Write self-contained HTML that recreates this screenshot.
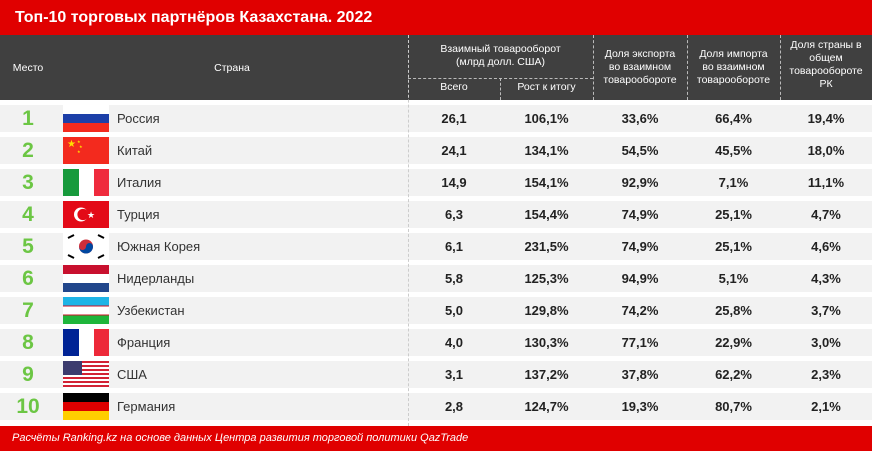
<!DOCTYPE html>
<html><head><meta charset="utf-8"><style>
body{margin:0;width:872px;height:451px;background:#fff;font-family:"Liberation Sans",sans-serif;position:relative;overflow:hidden}
.t{position:absolute;left:0;top:0;width:872px;height:35px;background:#e00000;color:#fff;font-weight:bold;font-size:16px;line-height:35px;padding-left:15px;box-sizing:border-box}
.h{position:absolute;left:0;top:35px;width:872px;height:65px;background:#404040;color:#fff;font-size:10.5px}
.h div{position:absolute;text-align:center;line-height:13px}
.vl{position:absolute;width:0;border-left:1px dashed #bbb;z-index:5}
.row{position:absolute;left:0;width:872px;height:27px;background:#f2f2f2;font-size:13px;line-height:27px}
.row span{position:absolute;top:0}
.rk{left:0;width:56px;text-align:center;color:#6cc644;font-weight:bold;font-size:21px}
.nm{left:117px;color:#333}
.v{text-align:center;font-weight:bold;color:#222}
.fl{position:absolute;left:63px;top:0;width:46px;height:27px}
.f{position:absolute;left:0;top:426px;width:872px;height:25px;background:#e00000;color:#fff;font-style:italic;font-size:11px;line-height:25px;padding-left:12px;z-index:6}
</style></head><body>
<div class="t">Топ-10 торговых партнёров Казахстана. 2022</div>
<div class="h">
<div style="left:0;width:56px;top:27px">Место</div>
<div style="left:56px;width:352px;top:27px">Страна</div>
<div style="left:408px;width:185px;top:8px">Взаимный товарооборот<br>(млрд долл. США)</div>
<div style="left:408px;width:92px;top:46px">Всего</div>
<div style="left:500px;width:93px;top:46px">Рост к итогу</div>
<div style="left:593px;width:94px;top:13px">Доля экспорта<br>во взаимном<br>товарообороте</div>
<div style="left:687px;width:93px;top:13px">Доля импорта<br>во взаимном<br>товарообороте</div>
<div style="left:780px;width:92px;top:4px">Доля страны в<br>общем<br>товарообороте<br>РК</div>
<div style="left:408px;width:185px;top:43px;height:0;border-top:1px dashed #bbb"></div>
</div>

<div id="rows"></div>
<div class="vl" style="left:408px;top:35px;height:391px;border-color:#ccc"></div>
<div class="vl" style="left:500px;top:78px;height:22px"></div>
<div class="vl" style="left:593px;top:35px;height:65px"></div>
<div class="vl" style="left:687px;top:35px;height:65px"></div>
<div class="vl" style="left:780px;top:35px;height:65px"></div>
<script>
var d=[["Россия","26,1","106,1%","33,6%","66,4%","19,4%",'<rect width="46" height="9" fill="#fff"/><rect y="9" width="46" height="9" fill="#1c3fa8"/><rect y="18" width="46" height="9" fill="#f32a1e"/>'],
["Китай","24,1","134,1%","54,5%","45,5%","18,0%",'<rect width="46" height="27" fill="#f32a1e"/><text x="4" y="10" font-size="10" fill="#ffde00">★</text><text x="14" y="6" font-size="4" fill="#ffde00">★</text><text x="16" y="11" font-size="4" fill="#ffde00">★</text><text x="14" y="16" font-size="4" fill="#ffde00">★</text>'],
["Италия","14,9","154,1%","92,9%","7,1%","11,1%",'<rect width="16" height="27" fill="#179a3c"/><rect x="16" width="15" height="27" fill="#fff"/><rect x="31" width="15" height="27" fill="#ef2b3d"/>'],
["Турция","6,3","154,4%","74,9%","25,1%","4,7%",'<rect width="46" height="27" fill="#e30a17"/><circle cx="18" cy="13.5" r="7" fill="#fff"/><circle cx="20" cy="13.5" r="5.6" fill="#e30a17"/><text x="24" y="17" font-size="9" fill="#fff">★</text>'],
["Южная Корея","6,1","231,5%","74,9%","25,1%","4,6%",'<rect width="46" height="27" fill="#fff"/><circle cx="23" cy="13.5" r="7" fill="#cd2e3a"/><path d="M16 13.5a7 7 0 0 0 14 0a3.5 3.5 0 0 0-7 0a3.5 3.5 0 0 1-7 0z" fill="#0047a0"/><g stroke="#000" stroke-width="2"><line x1="5" y1="5" x2="11" y2="2"/><line x1="35" y1="2" x2="41" y2="5"/><line x1="5" y1="22" x2="11" y2="25"/><line x1="35" y1="25" x2="41" y2="22"/></g>'],
["Нидерланды","5,8","125,3%","94,9%","5,1%","4,3%",'<rect width="46" height="9" fill="#c8102e"/><rect y="9" width="46" height="9" fill="#fff"/><rect y="18" width="46" height="9" fill="#21468b"/>'],
["Узбекистан","5,0","129,8%","74,2%","25,8%","3,7%",'<rect width="46" height="9" fill="#1eb4e6"/><rect y="9" width="46" height="9" fill="#fff"/><rect y="18" width="46" height="9" fill="#1eb53a"/><rect y="8.5" width="46" height="1" fill="#ce1126"/><rect y="17.5" width="46" height="1" fill="#ce1126"/>'],
["Франция","4,0","130,3%","77,1%","22,9%","3,0%",'<rect width="16" height="27" fill="#002395"/><rect x="16" width="15" height="27" fill="#fff"/><rect x="31" width="15" height="27" fill="#ed2939"/>'],
["США","3,1","137,2%","37,8%","62,2%","2,3%",'<rect width="46" height="27" fill="#fff"/>'+[0,4,8,12,16,20,24].map(function(y){return '<rect y="'+y+'" width="46" height="2" fill="#d22234"/>'}).join('')+'<rect width="19" height="14" fill="#3c3b6e"/>'],
["Германия","2,8","124,7%","19,3%","80,7%","2,1%",'<rect width="46" height="9" fill="#000"/><rect y="9" width="46" height="9" fill="#dd0000"/><rect y="18" width="46" height="9" fill="#ffce00"/>']];
var cx=[[408,92],[500,93],[593,94],[687,93],[780,92]],h='';
d.forEach(function(r,i){h+='<div class="row" style="top:'+(105+32*i)+'px"><span class="rk">'+(i+1)+'</span><svg class="fl" viewBox="0 0 46 27">'+r[6]+'</svg><span class="nm">'+r[0]+'</span>';
for(var j=0;j<5;j++)h+='<span class="v" style="left:'+cx[j][0]+'px;width:'+cx[j][1]+'px">'+r[j+1]+'</span>';h+='</div>';});
document.getElementById('rows').innerHTML=h;
</script>
<div class="f">Расчёты Ranking.kz на основе данных Центра развития торговой политики QazTrade</div>
</body></html>
